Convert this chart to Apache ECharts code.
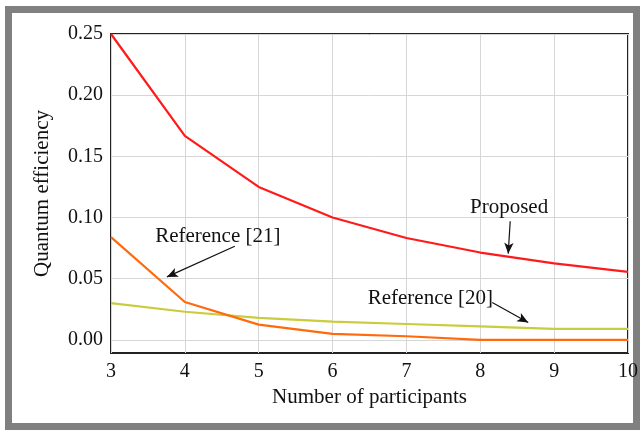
<!DOCTYPE html>
<html>
<head>
<meta charset="utf-8">
<script src="https://cdn.jsdelivr.net/npm/echarts@6/dist/echarts.min.js"></script>
<style>
  html, body { margin: 0; padding: 0; background: #fff; }
  #main { width: 641px; height: 430px; }
</style>
</head>
<body>
<div id="main"></div>
<script>
// 横轴：参与者数量
const participants = [3, 4, 5, 6, 7, 8, 9, 10]
// 各方案的量子效率
const proposed = [0.25, 0.1667, 0.125, 0.1, 0.0833, 0.0714, 0.0625, 0.0556]
const reference21 = [0.084, 0.031, 0.0125, 0.005, 0.003, 0.0, 0.0, 0.0]
const reference20 = [0.030, 0.023, 0.018, 0.015, 0.013, 0.011, 0.009, 0.009]
// 纵轴刻度
const yTicks = [0, 0.05, 0.1, 0.15, 0.2, 0.25]

// 标注：文字位置和箭头 [起点, 终点]（数据坐标）
const notes = [
  { text: "Proposed", at: [8.39, 0.108], from: [8.405, 0.097], to: [8.378, 0.0705] },
  { text: "Reference [21]", at: [4.446, 0.0845], from: [4.676, 0.0765], to: [3.757, 0.0515] },
  { text: "Reference [20]", at: [7.324, 0.034], from: [8.162, 0.0305], to: [8.649, 0.0142] }
]

const font = "Liberation Serif"
const chart = echarts.init(document.getElementById("main"))

const pairs = arr => participants.map((x, i) => [x, arr[i]])

const option = {
  animation: false,
  backgroundColor: "#fff",
  textStyle: { fontFamily: font },
  graphic: [
    {
      type: "rect",
      shape: { x: 8.5, y: 9.5, width: 628, height: 417 },
      style: { fill: "none", stroke: "#808080", lineWidth: 7 },
      silent: true
    }
  ],
  grid: { left: 111, right: 11, top: 34, bottom: 77, show: true, borderColor: "#222", borderWidth: 2, backgroundColor: "transparent" },
  xAxis: {
    type: "value",
    min: 3,
    max: 10,
    interval: 1,
    name: "Number of participants",
    nameLocation: "middle",
    nameGap: 34,
    nameTextStyle: { fontFamily: font, fontSize: 21, color: "#111" },
    axisLine: { show: false },
    axisTick: { show: false },
    axisLabel: { fontFamily: font, fontSize: 20, color: "#111", margin: 9 },
    splitLine: { show: true, lineStyle: { color: "#d6d6d6", width: 1 } }
  },
  yAxis: {
    type: "value",
    min: -0.0107,
    max: 0.25,
    name: "Quantum efficiency",
    nameLocation: "middle",
    nameGap: 58,
    nameTextStyle: { fontFamily: font, fontSize: 21, color: "#111" },
    axisLine: { show: false },
    axisTick: { show: false, customValues: yTicks },
    axisLabel: {
      customValues: yTicks,
      fontFamily: font, fontSize: 20, color: "#111", margin: 8,
      formatter: v => v.toFixed(2)
    },
    splitLine: { show: true, lineStyle: { color: "#d6d6d6", width: 1 } }
  },
  series: [
    {
      name: "Proposed",
      type: "line",
      data: pairs(proposed),
      symbol: "none",
      clip: false,
      lineStyle: { color: "#ff1a1a", width: 2.2 },
      z: 5
    },
    {
      name: "Reference [21]",
      type: "line",
      data: pairs(reference21),
      symbol: "none",
      clip: false,
      lineStyle: { color: "#ff6a0d", width: 2.2 },
      z: 4
    },
    {
      name: "Reference [20]",
      type: "line",
      data: pairs(reference20),
      symbol: "none",
      clip: false,
      lineStyle: { color: "#c9cc3c", width: 2.2 },
      z: 3,
      markPoint: {
        symbol: "rect",
        symbolSize: 1,
        itemStyle: { color: "transparent" },
        label: { show: true, position: "inside", fontFamily: font, fontSize: 21, color: "#111", formatter: p => p.name },
        data: notes.map(n => ({ name: n.text, coord: n.at }))
      },
      markLine: {
        silent: true,
        symbol: ["none", "arrow"],
        symbolSize: [7, 11],
        label: { show: false },
        lineStyle: { color: "#111", width: 1.2, type: "solid" },
        data: notes.map(n => [{ coord: n.from }, { coord: n.to }])
      }
    }
  ]
}

chart.setOption(option)
</script>
</body>
</html>
